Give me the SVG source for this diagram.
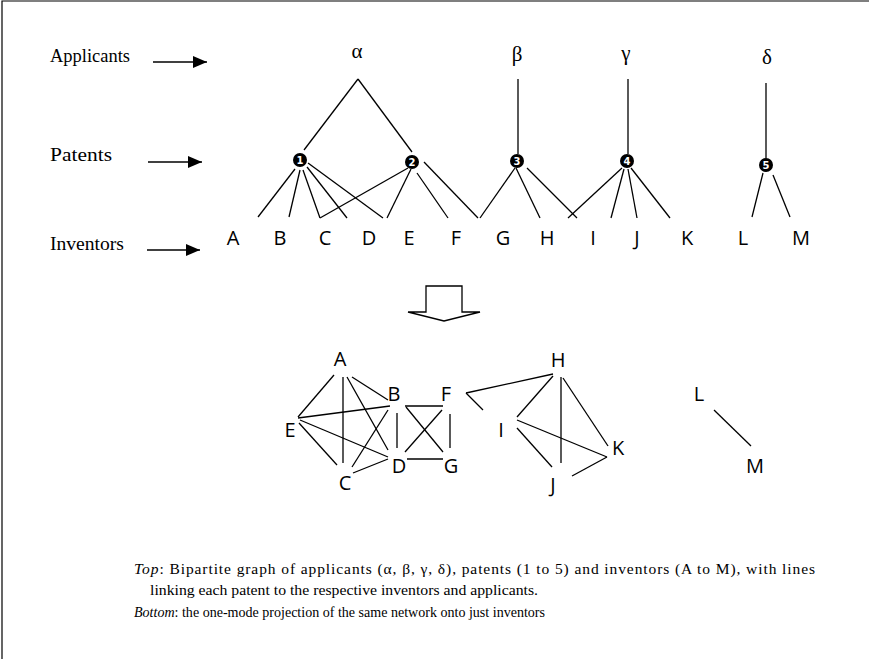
<svg xmlns="http://www.w3.org/2000/svg" width="870" height="659" viewBox="0 0 870 659">
<style>
.bg{fill:#fff}
.frame{stroke:#000;stroke-width:1.2;fill:none}
.ln{stroke:#000;stroke-width:1.3;fill:none;stroke-linecap:butt}
.lbl{font-family:"Liberation Serif","Times New Roman",serif;font-size:18px;fill:#000}
.greek{font-family:"Liberation Serif","Times New Roman",serif;font-size:21px;fill:#000;text-anchor:middle}
.inv{font-family:"Open Sans","Noto Sans","DejaVu Sans",sans-serif;font-size:20px;fill:#000;text-anchor:middle}
.pnum{font-family:"DejaVu Sans","Liberation Sans",sans-serif;font-size:10px;font-weight:bold;fill:#fff;text-anchor:middle}
.cap{font-family:"Liberation Serif","Times New Roman",serif;font-size:15.5px;fill:#000}
.it{font-style:italic}
</style>
<defs>
<marker id="ah" markerWidth="14" markerHeight="12" refX="14" refY="6" orient="auto" markerUnits="userSpaceOnUse">
<path d="M0,0 L14,6 L0,12 Z" fill="#000"/>
</marker>
</defs>
<rect class="bg" x="0" y="0" width="870" height="659"/>
<path class="frame" d="M2,659 L2,1 L869,1"/>

<g id="legend">
<text class="lbl" x="50" y="62" textLength="80" lengthAdjust="spacingAndGlyphs">Applicants</text>
<text class="lbl" x="50" y="161" textLength="62" lengthAdjust="spacingAndGlyphs">Patents</text>
<text class="lbl" x="50" y="250" textLength="74" lengthAdjust="spacingAndGlyphs">Inventors</text>
<line class="ln" x1="153" y1="62" x2="207" y2="62" marker-end="url(#ah)"/>
<line class="ln" x1="148" y1="162" x2="202" y2="162" marker-end="url(#ah)"/>
<line class="ln" x1="147" y1="250" x2="200" y2="250" marker-end="url(#ah)"/>
</g>

<g id="connectors-top">
<line class="ln" x1="358" y1="79" x2="304" y2="150"/>
<line class="ln" x1="358" y1="79" x2="412" y2="152"/>
<line class="ln" x1="518" y1="79" x2="518" y2="154"/>
<line class="ln" x1="628" y1="79" x2="628" y2="154"/>
<line class="ln" x1="766" y1="83" x2="766" y2="158"/>
<line class="ln" x1="295" y1="169" x2="258" y2="217"/>
<line class="ln" x1="300" y1="170" x2="289" y2="217"/>
<line class="ln" x1="303" y1="170" x2="320" y2="218"/>
<line class="ln" x1="307" y1="167" x2="347" y2="218"/>
<line class="ln" x1="308" y1="163" x2="383" y2="218"/>
<line class="ln" x1="408" y1="168" x2="320" y2="218"/>
<line class="ln" x1="411" y1="169" x2="387" y2="218"/>
<line class="ln" x1="417" y1="173" x2="448" y2="218"/>
<line class="ln" x1="424" y1="162" x2="478" y2="218"/>
<line class="ln" x1="515" y1="168" x2="480" y2="218"/>
<line class="ln" x1="516" y1="168" x2="540" y2="218"/>
<line class="ln" x1="527" y1="168" x2="577" y2="218"/>
<line class="ln" x1="622" y1="168" x2="568" y2="218"/>
<line class="ln" x1="624" y1="169" x2="611" y2="218"/>
<line class="ln" x1="628" y1="169" x2="637" y2="218"/>
<line class="ln" x1="631" y1="168" x2="670" y2="218"/>
<line class="ln" x1="763" y1="173" x2="752" y2="217"/>
<line class="ln" x1="773" y1="175" x2="790" y2="217"/>
</g>

<g id="applicants">
<g id="app-alpha"><text class="greek" x="357" y="58">α</text></g>
<g id="app-beta"><text class="greek" x="517" y="61">β</text></g>
<g id="app-gamma"><text class="greek" x="626" y="60">γ</text></g>
<g id="app-delta"><text class="greek" x="767" y="64">δ</text></g>
</g>

<g id="patents">
<g id="p1"><circle cx="300" cy="160" r="7"/><text class="pnum" x="300" y="163.6">1</text></g>
<g id="p2"><circle cx="412" cy="162" r="7"/><text class="pnum" x="412" y="165.6">2</text></g>
<g id="p3"><circle cx="517" cy="161" r="7"/><text class="pnum" x="517" y="164.6">3</text></g>
<g id="p4"><circle cx="627" cy="161" r="7"/><text class="pnum" x="627" y="164.6">4</text></g>
<g id="p5"><circle cx="766" cy="165" r="7"/><text class="pnum" x="766" y="168.6">5</text></g>
</g>

<g id="inventors-top">
<text class="inv" x="233" y="245">A</text>
<text class="inv" x="280" y="245">B</text>
<text class="inv" x="325" y="245">C</text>
<text class="inv" x="369" y="245">D</text>
<text class="inv" x="409" y="245">E</text>
<text class="inv" x="456" y="245">F</text>
<text class="inv" x="503" y="245">G</text>
<text class="inv" x="547" y="245">H</text>
<text class="inv" x="593" y="245">I</text>
<text class="inv" x="637" y="245">J</text>
<text class="inv" x="687" y="245">K</text>
<text class="inv" x="743" y="245">L</text>
<text class="inv" x="801" y="245">M</text>
</g>

<g id="transform-arrow">
<polygon class="ln" points="426,286 462,286 462,312 480,312 444,321 408,312 426,312"/>
</g>

<g id="connectors-bottom">
<line class="ln" x1="334" y1="375" x2="298" y2="417"/>
<line class="ln" x1="343" y1="377" x2="343" y2="463"/>
<line class="ln" x1="347" y1="377" x2="388" y2="450"/>
<line class="ln" x1="352" y1="377" x2="388" y2="400"/>
<line class="ln" x1="298" y1="418" x2="390" y2="406"/>
<line class="ln" x1="300" y1="420" x2="388" y2="457"/>
<line class="ln" x1="299" y1="423" x2="337" y2="465"/>
<line class="ln" x1="352" y1="467" x2="388" y2="410"/>
<line class="ln" x1="353" y1="473" x2="388" y2="459"/>
<line class="ln" x1="397" y1="413" x2="397" y2="448"/>
<line class="ln" x1="405" y1="406" x2="443" y2="406"/>
<line class="ln" x1="406" y1="407" x2="443" y2="452"/>
<line class="ln" x1="442" y1="410" x2="405" y2="452"/>
<line class="ln" x1="450" y1="414" x2="450" y2="448"/>
<line class="ln" x1="407" y1="459" x2="443" y2="459"/>
<line class="ln" x1="466" y1="393" x2="553" y2="374"/>
<line class="ln" x1="466" y1="393" x2="483" y2="410"/>
<line class="ln" x1="553" y1="376" x2="517" y2="417"/>
<line class="ln" x1="561" y1="377" x2="561" y2="463"/>
<line class="ln" x1="563" y1="378" x2="608" y2="446"/>
<line class="ln" x1="517" y1="428" x2="552" y2="467"/>
<line class="ln" x1="517" y1="420" x2="607" y2="457"/>
<line class="ln" x1="572" y1="476" x2="607" y2="457"/>
<line class="ln" x1="714" y1="410" x2="751" y2="446"/>
</g>

<g id="inventors-bottom">
<g id="nA"><text class="inv" x="340" y="366">A</text></g>
<g id="nB"><text class="inv" x="394" y="401">B</text></g>
<g id="nF"><text class="inv" x="446" y="401">F</text></g>
<g id="nE"><text class="inv" x="290" y="437">E</text></g>
<g id="nD"><text class="inv" x="399" y="473">D</text></g>
<g id="nG"><text class="inv" x="451" y="473">G</text></g>
<g id="nC"><text class="inv" x="345" y="490">C</text></g>
<g id="nH"><text class="inv" x="558" y="367">H</text></g>
<g id="nI"><text class="inv" x="501" y="437">I</text></g>
<g id="nJ"><text class="inv" x="553" y="492">J</text></g>
<g id="nK"><text class="inv" x="618" y="455">K</text></g>
<g id="nL"><text class="inv" x="699" y="401">L</text></g>
<g id="nM"><text class="inv" x="755" y="473">M</text></g>
</g>

<g id="caption">
<text class="cap" x="134" y="574" textLength="681" lengthAdjust="spacing"><tspan class="it">Top</tspan>: Bipartite graph of applicants (α, β, γ, δ), patents (1 to 5) and inventors (A to M), with lines</text>
<text class="cap" x="150" y="595" textLength="388" lengthAdjust="spacingAndGlyphs">linking each patent to the respective inventors and applicants.</text>
<text class="cap" x="134" y="617" textLength="411" lengthAdjust="spacingAndGlyphs"><tspan class="it">Bottom</tspan>: the one-mode projection of the same network onto just inventors</text>
</g>
</svg>
